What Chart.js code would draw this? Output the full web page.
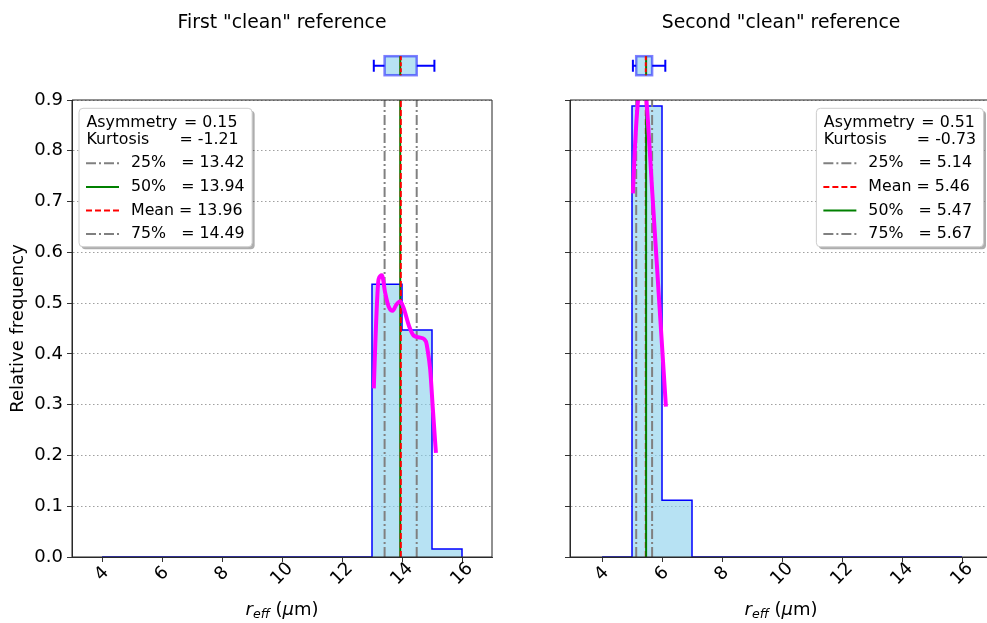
<!DOCTYPE html>
<html>
<head>
<meta charset="utf-8">
<script src="https://cdn.jsdelivr.net/npm/chart.js@4/dist/chart.umd.min.js"></script>
<style>
  html, body { margin: 0; padding: 0; background: #fff; overflow: hidden; width: 987px; height: 623px; }
  canvas { position: absolute; top: 0; }
  #first { left: 0; width: 495px; height: 623px; }
  #second { left: 495px; width: 492px; height: 623px; }
</style>
</head>
<body>
<canvas id="first" width="495" height="623"></canvas>
<canvas id="second" width="492" height="623"></canvas>
<script>
// histogram bins (width 1) and relative frequencies
const binEdges = [4, 5, 6, 7, 8, 9, 10, 11, 12, 13, 14, 15, 16];
const freqFirst  = [0, 0, 0, 0, 0, 0, 0, 0, 0, 0.537, 0.447, 0.016];
const freqSecond = [0, 0.888, 0.112, 0, 0, 0, 0, 0, 0, 0, 0, 0];

// kde curves
const kdeFirstX = [13.06, 13.11, 13.22, 13.33, 13.44, 13.55, 13.69, 13.81, 13.94, 14.05, 14.24, 14.39, 14.61, 14.8, 14.85, 14.94, 15.03, 15.13];
const kdeFirstY = [0.332, 0.42, 0.547, 0.555, 0.52, 0.494, 0.485, 0.497, 0.503, 0.491, 0.454, 0.436, 0.432, 0.424, 0.409, 0.369, 0.29, 0.205];
const kdeSecondX = [5.03, 5.1, 5.2, 5.3, 5.38, 5.48, 5.68, 5.91, 6.13];
const kdeSecondY = [0.716, 0.81, 0.9, 0.95, 0.955, 0.9, 0.714, 0.5, 0.296];

// statistics
const statsFirst  = { '25%': 13.42, '50%': 13.94, 'Mean': 13.96, '75%': 14.49 };
const statsSecond = { '25%': 5.14, '50%': 5.47, 'Mean': 5.46, '75%': 5.67 };
const legendOrderFirst  = ['25%', '50%', 'Mean', '75%'];
const legendOrderSecond = ['25%', 'Mean', '50%', '75%'];
const asymmetry = [0.15, 0.51];
const kurtosis  = [-1.21, -0.73];
const whiskersFirst  = [13.06, 15.08];
const whiskersSecond = [5.03, 6.11];

// ticks
const xTicks = [4, 6, 8, 10, 12, 14, 16];
const yTicks = [0, 0.1, 0.2, 0.3, 0.4, 0.5, 0.6, 0.7, 0.8, 0.9];

const FONT = 'DejaVu Sans';
Chart.defaults.font.family = FONT;

const statStyle = {
  '25%':  { color: 'gray',  dash: [10, 3, 2, 3] },
  '75%':  { color: 'gray',  dash: [10, 3, 2, 3] },
  '50%':  { color: 'green', dash: [] },
  'Mean': { color: 'red',   dash: [6, 3] }
};

function histPoints(freq) {
  return binEdges.map((e, i) => ({ x: e, y: i < freq.length ? freq[i] : 0 }));
}

function drawXLabel(ctx, cx, y) {
  const parts = [
    { t: 'r', f: 'italic 18px "' + FONT + '"', dy: 0 },
    { t: 'eff', f: 'italic 12.6px "' + FONT + '"', dy: 3.5 },
    { t: ' (', f: '18px "' + FONT + '"', dy: 0 },
    { t: 'μ', f: 'italic 18px "' + FONT + '"', dy: 0 },
    { t: 'm)', f: '18px "' + FONT + '"', dy: 0 }
  ];
  let w = 0;
  parts.forEach(p => { ctx.font = p.f; p.w = ctx.measureText(p.t).width; w += p.w; });
  let x = cx - w / 2;
  ctx.textAlign = 'left';
  ctx.textBaseline = 'alphabetic';
  parts.forEach(p => { ctx.font = p.f; ctx.fillText(p.t, x, y + p.dy); x += p.w; });
}

function drawBox(ctx, xs, stats, whiskers) {
  const yc = 65.7, h = 19, cap = 6;
  const q1 = xs.getPixelForValue(stats['25%']);
  const q3 = xs.getPixelForValue(stats['75%']);
  const md = xs.getPixelForValue(stats['50%']);
  const mn = xs.getPixelForValue(stats['Mean']);
  const wl = xs.getPixelForValue(whiskers[0]);
  const wh = xs.getPixelForValue(whiskers[1]);
  ctx.save();
  ctx.strokeStyle = 'blue';
  ctx.lineWidth = 2;
  ctx.beginPath();
  ctx.moveTo(wl, yc); ctx.lineTo(q1, yc);
  ctx.moveTo(q3, yc); ctx.lineTo(wh, yc);
  ctx.moveTo(wl, yc - cap); ctx.lineTo(wl, yc + cap);
  ctx.moveTo(wh, yc - cap); ctx.lineTo(wh, yc + cap);
  ctx.stroke();
  ctx.fillStyle = 'rgba(135,206,235,0.6)';
  ctx.fillRect(q1, yc - h / 2, q3 - q1, h);
  ctx.strokeStyle = 'rgba(0,0,255,0.5)';
  ctx.lineWidth = 2.5;
  ctx.strokeRect(q1, yc - h / 2, q3 - q1, h);
  ctx.lineWidth = 2;
  ctx.strokeStyle = 'green';
  ctx.beginPath(); ctx.moveTo(md, yc - h / 2); ctx.lineTo(md, yc + h / 2); ctx.stroke();
  ctx.strokeStyle = 'red';
  ctx.setLineDash([4, 2]);
  ctx.beginPath(); ctx.moveTo(mn, yc - h / 2); ctx.lineTo(mn, yc + h / 2); ctx.stroke();
  ctx.restore();
}

function roundRect(ctx, x, y, w, h, r) {
  ctx.beginPath();
  ctx.moveTo(x + r, y);
  ctx.arcTo(x + w, y, x + w, y + h, r);
  ctx.arcTo(x + w, y + h, x, y + h, r);
  ctx.arcTo(x, y + h, x, y, r);
  ctx.arcTo(x, y, x + w, y, r);
  ctx.closePath();
}

function drawLegend(ctx, a, p) {
  const fs = 15.8;
  ctx.font = fs + 'px "' + FONT + '"';
  // header rows: name, then "= value" at a fixed offset
  const head = [
    ['Asymmetry', '= ' + p.asym.toFixed(2), 97.5],
    ['Kurtosis', '= ' + p.kurt.toFixed(2), 93]
  ];
  const rows = p.order.map(k => k + (k === 'Mean' ? ' ' : '   ') + '= ' + p.stats[k].toFixed(2));
  let wMax = 0;
  head.forEach(h => { wMax = Math.max(wMax, 7.5 + h[2] + ctx.measureText(h[1]).width); });
  rows.forEach(t => { wMax = Math.max(wMax, 52 + ctx.measureText(t).width); });
  const w = wMax + 7.5, h = 138.5;
  const x = p.legendSide === 'left' ? a.left + 7 : a.right - 8.5 - w;
  const y = a.top + 8.3;
  ctx.save();
  ctx.fillStyle = 'rgba(0,0,0,0.32)';
  roundRect(ctx, x + 2.5, y + 2.5, w, h, 4);
  ctx.fill();
  ctx.fillStyle = '#fff';
  roundRect(ctx, x, y, w, h, 4);
  ctx.fill();
  ctx.strokeStyle = '#cccccc';
  ctx.lineWidth = 1;
  ctx.stroke();
  ctx.fillStyle = '#000';
  ctx.textAlign = 'left';
  ctx.textBaseline = 'middle';
  head.forEach((hd, i) => {
    const ry = y + 14.4 + i * 17.3;
    ctx.fillText(hd[0], x + 7.5, ry);
    ctx.fillText(hd[1], x + 7.5 + hd[2], ry);
  });
  rows.forEach((t, i) => {
    const ry = y + 55 + i * 23.6;
    const st = statStyle[p.order[i]];
    ctx.strokeStyle = st.color;
    ctx.lineWidth = 2;
    ctx.setLineDash(st.dash);
    ctx.beginPath(); ctx.moveTo(x + 7, ry); ctx.lineTo(x + 40, ry); ctx.stroke();
    ctx.setLineDash([]);
    ctx.fillText(t, x + 52, ry);
  });
  ctx.restore();
}

function panelPlugin(p) {
  return {
    id: 'panel',
    afterDraw(chart) {
      const ctx = chart.ctx, a = chart.chartArea, xs = chart.scales.x;
      const cx = (a.left + a.right) / 2;
      ctx.save();
      // spines (the second panel runs past the right edge of the figure)
      ctx.strokeStyle = '#222';
      ctx.lineWidth = 1;
      ctx.beginPath();
      if (p.rightSpine) {
        ctx.rect(a.left, a.top, a.right - a.left, a.bottom - a.top);
      } else {
        ctx.moveTo(a.right + 2, a.top); ctx.lineTo(a.left, a.top);
        ctx.lineTo(a.left, a.bottom); ctx.lineTo(a.right + 2, a.bottom);
      }
      ctx.stroke();
      const tcx = p.titleCx !== undefined ? p.titleCx : cx;
      ctx.fillStyle = '#000';
      ctx.font = '18.8px "' + FONT + '"';
      ctx.textAlign = 'center';
      ctx.textBaseline = 'alphabetic';
      ctx.fillText(p.title, tcx, 27.5);
      ctx.font = '18px "' + FONT + '"';
      ctx.textBaseline = 'middle';
      xTicks.forEach(v => {
        ctx.save();
        ctx.translate(xs.getPixelForValue(v), a.bottom + 17);
        ctx.rotate(-Math.PI / 4);
        ctx.fillText(String(v), 0, 0);
        ctx.restore();
      });
      drawXLabel(ctx, tcx, a.bottom + 57.5);
      drawBox(ctx, xs, p.stats, p.whiskers);
      drawLegend(ctx, { left: a.left, top: a.top, right: p.legendRight || a.right }, p);
      ctx.restore();
    }
  };
}

function makePanel(id, p) {
  const datasets = [];
  datasets.push({
    data: histPoints(p.freq),
    showLine: true, stepped: 'before', pointRadius: 0,
    borderColor: 'blue', borderWidth: 1.5,
    backgroundColor: 'rgba(135,206,235,0.6)', fill: 'origin', order: 20
  });
  p.order.forEach((k, i) => {
    const st = statStyle[k];
    datasets.push({
      data: [{ x: p.stats[k], y: yTicks[0] }, { x: p.stats[k], y: yTicks[yTicks.length - 1] }],
      showLine: true, pointRadius: 0, borderColor: st.color, borderWidth: 2,
      borderDash: st.dash, fill: false, order: 10 - i
    });
  });
  datasets.push({
    data: p.kdeX.map((x, i) => ({ x: x, y: p.kdeY[i] })),
    showLine: true, pointRadius: 0, borderColor: 'magenta', borderWidth: 4,
    cubicInterpolationMode: 'monotone', fill: false, clip: 0, order: 0
  });

  new Chart(document.getElementById(id), {
    type: 'scatter',
    data: { datasets: datasets },
    options: {
      responsive: false,
      animation: false,
      layout: { padding: { top: 100, right: p.padRight, bottom: 0, left: 0 } },
      plugins: { legend: { display: false }, tooltip: { enabled: false } },
      scales: {
        x: {
          type: 'linear', min: p.xMin, max: p.xMax,
          afterBuildTicks: s => { s.ticks = xTicks.map(v => ({ value: v })); },
          afterFit: s => { s.height = 66; },
          ticks: { display: false },
          grid: { drawOnChartArea: false, drawTicks: true, tickLength: 5, tickColor: '#333', color: '#333' },
          border: { color: '#333' }
        },
        y: {
          min: 0, max: 0.9,
          afterBuildTicks: s => { s.ticks = yTicks.map(v => ({ value: v })); },
          afterFit: s => { s.width = p.axisW; },
          ticks: {
            display: p.showY, color: '#000', padding: 4,
            font: { size: 18 }, callback: v => v.toFixed(1)
          },
          grid: { color: '#a0a0a0', tickColor: '#333', tickLength: 5, tickBorderDash: [] },
          border: { dash: [1.5, 2.5], color: '#333' },
          title: {
            display: p.showY, text: 'Relative frequency', color: '#000',
            font: { size: 18 }, padding: { top: 8, bottom: 0 }
          }
        }
      }
    },
    plugins: [panelPlugin(p)]
  });
}

makePanel('first', {
  title: 'First "clean" reference', freq: freqFirst, kdeX: kdeFirstX, kdeY: kdeFirstY,
  stats: statsFirst, order: legendOrderFirst, asym: asymmetry[0], kurt: kurtosis[0],
  whiskers: whiskersFirst, legendSide: 'left', xMin: 3, xMax: 17, axisW: 72, padRight: 3,
  showY: true, rightSpine: true
});
// the second axes is wider than what is left of the figure: it is cut at the right edge
makePanel('second', {
  title: 'Second "clean" reference', freq: freqSecond, kdeX: kdeSecondX, kdeY: kdeSecondY,
  stats: statsSecond, order: legendOrderSecond, asym: asymmetry[1], kurt: kurtosis[1],
  whiskers: whiskersSecond, legendSide: 'right', xMin: 2.933, xMax: 16.833, axisW: 75, padRight: 0,
  showY: false, rightSpine: false, titleCx: 286, legendRight: 497
});
</script>
</body>
</html>
